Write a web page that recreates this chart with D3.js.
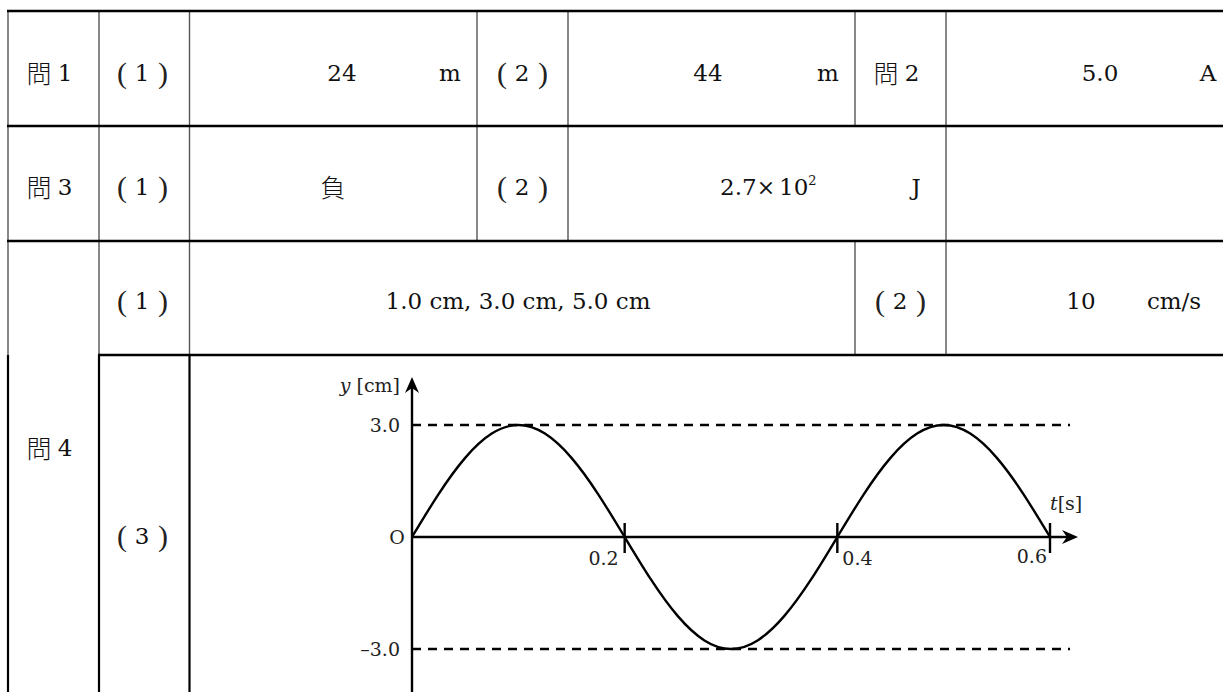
<!DOCTYPE html>
<html><head><meta charset="utf-8">
<script src="https://cdn.jsdelivr.net/npm/d3@7"></script>
<style>
html,body{margin:0;padding:0;background:#fff;}
svg{display:block;}
</style></head>
<body>
<svg id="c" width="1223" height="692"></svg>
<script>
// ---------- data ----------
const questionLabels = [["問", "1"], ["問", "2"], ["問", "3"], ["問", "4"]];
const partLabels = ["1", "2", "3"];
const row1Answers = [["24", "m"], ["44", "m"], ["5.0", "A"]];
const row2Answers = ["負", ["2.7", "×", "10", "2", "J"]];
const row3Answers = ["1.0 cm, 3.0 cm, 5.0 cm", ["10", "cm/s"]];
// graph values
const waveT = [0, 0.025, 0.05, 0.075, 0.1, 0.125, 0.15, 0.175, 0.2, 0.225, 0.25, 0.275, 0.3, 0.325, 0.35, 0.375, 0.4, 0.425, 0.45, 0.475, 0.5, 0.525, 0.55, 0.575, 0.6];
const waveY = [0, 1.15, 2.12, 2.77, 3.0, 2.77, 2.12, 1.15, 0, -1.15, -2.12, -2.77, -3.0, -2.77, -2.12, -1.15, 0, 1.15, 2.12, 2.77, 3.0, 2.77, 2.12, 1.15, 0];
const tTicks = [0.2, 0.4, 0.6];
const tTickLabels = ["0.2", "0.4", "0.6"];
const yTicks = [3.0, -3.0];
const yTickLabels = ["3.0", "–3.0"];
const yAxisTitle = ["y", " [cm]"];
const tAxisTitle = ["t", "[s]"];
const originLabel = "O";

// ---------- layout ----------
const svg = d3.select("#c");
const W = 1223, H = 692;
const serif = "'DejaVu Serif', serif";
const thinSerif = "'Liberation Serif', serif";
const cjk = "'Noto Sans CJK JP', sans-serif";
const rowY = [11, 126, 241, 355];
const colX = [8, 99, 189.5, 477, 568, 855, 946];

const grid = svg.append("g");
function hline(y, x1, x2) {
  grid.append("line").attr("x1", x1).attr("x2", x2).attr("y1", y).attr("y2", y)
    .attr("stroke", "#000").attr("stroke-width", 2.4);
}
function vline(x, y1, y2, dark) {
  grid.append("line").attr("x1", x).attr("x2", x).attr("y1", y1).attr("y2", y2)
    .attr("stroke", dark ? "#000" : "#555").attr("stroke-width", dark ? 2.2 : 1.4);
}
[colX[0], colX[1], colX[2]].forEach(x => { vline(x, rowY[0], rowY[3], false); vline(x, rowY[3], H, true); });
vline(colX[3], rowY[0], rowY[2], false);
vline(colX[4], rowY[0], rowY[2], false);
vline(colX[5], rowY[0], rowY[1], false);
vline(colX[5], rowY[2], rowY[3], false);
vline(colX[6], rowY[0], rowY[3], false);
hline(rowY[0], colX[0] - 1, W);
hline(rowY[1], colX[0] - 1, W);
hline(rowY[2], colX[0] - 1, W);
hline(rowY[3], colX[1] - 1, W);

const txt = svg.append("g").attr("fill", "#111");
const fs = 23;
function put(s, x, y, anchor, fam, size) {
  return txt.append("text").attr("x", x).attr("y", y)
    .attr("text-anchor", anchor || "middle").attr("dominant-baseline", "central")
    .attr("font-family", fam || serif).attr("font-size", size || fs).text(s);
}
const cy = [72, 186, 300, 447, 535];
function question(q, cx, yy) {
  put(q[0], cx - 11, yy, "middle", cjk, 25).attr("font-weight", 300);
  put(q[1], cx + 15, yy + 1, "middle", serif, fs);
}
function part(p, cx, yy) {
  put("(", cx - 20, yy, "middle", thinSerif, 30).attr("fill", "#222");
  put(p, cx, yy + 1, "middle", serif, fs);
  put(")", cx + 21, yy, "middle", thinSerif, 30).attr("fill", "#222");
}
question(questionLabels[0], 50, cy[0]);
question(questionLabels[1], 897, cy[0]);
question(questionLabels[2], 50, cy[1]);
question(questionLabels[3], 50, cy[3]);
part(partLabels[0], 142, cy[0]);
part(partLabels[1], 522, cy[0]);
part(partLabels[0], 142, cy[1]);
part(partLabels[1], 522, cy[1]);
part(partLabels[0], 142, cy[2]);
part(partLabels[1], 900, cy[2]);
part(partLabels[2], 142, cy[4]);

// row 1 answers
const r1pos = [[342, 450], [708, 828], [1100, 1208]];
row1Answers.forEach((a, i) => {
  put(a[0], r1pos[i][0], cy[0] + 1);
  put(a[1], r1pos[i][1], cy[0] + 1);
});
// row 2 answers
put(row2Answers[0], 333, cy[1], "middle", cjk, 25).attr("font-weight", 300);
const sc = row2Answers[1];
put(sc[0], 720, cy[1] + 1, "start");
put(sc[1], 766, cy[1] + 1, "middle", serif, 22).attr("font-weight", 300);
const ten = put(sc[2], 779, cy[1] + 1, "start");
ten.append("tspan").attr("font-size", 13).attr("dy", -7).text(sc[3]);
put(sc[4], 916, cy[1] + 1);
// row 3 answers
put(row3Answers[0], 518, cy[2] + 1, "middle");
put(row3Answers[1][0], 1081, cy[2] + 1);
put(row3Answers[1][1], 1174, cy[2] + 1);

// ---------- graph ----------
const x = d3.scaleLinear().domain([0, 0.6]).range([412, 1050]);
const y = d3.scaleLinear().domain([-3, 3]).range([649, 425]);
const g = svg.append("g");
const lw = 2.4;

yTicks.forEach(v => {
  g.append("line").attr("x1", x(0)).attr("x2", 1070).attr("y1", y(v)).attr("y2", y(v))
    .attr("stroke", "#000").attr("stroke-width", lw).attr("stroke-dasharray", "9,7");
});
g.append("line").attr("x1", x(0)).attr("x2", 1072).attr("y1", y(0)).attr("y2", y(0))
  .attr("stroke", "#000").attr("stroke-width", lw);
g.append("line").attr("x1", x(0)).attr("x2", x(0)).attr("y1", 384).attr("y2", H)
  .attr("stroke", "#000").attr("stroke-width", lw);
const ax = 1078, ay = y(0);
g.append("path").attr("d", `M${ax},${ay} L${ax - 16},${ay - 7} L${ax - 11},${ay} L${ax - 16},${ay + 7} Z`).attr("fill", "#000");
const bx = x(0), by = 377;
g.append("path").attr("d", `M${bx},${by} L${bx - 7},${by + 16} L${bx},${by + 11} L${bx + 7},${by + 16} Z`).attr("fill", "#000");

tTicks.forEach(v => {
  g.append("line").attr("x1", x(v)).attr("x2", x(v)).attr("y1", y(0) - 14).attr("y2", y(0) + 16)
    .attr("stroke", "#000").attr("stroke-width", lw);
});
const pts = waveT.map((t, i) => [t, waveY[i]]);
g.append("path").datum(pts)
  .attr("d", d3.line().x(d => x(d[0])).y(d => y(d[1])).curve(d3.curveNatural))
  .attr("fill", "none").attr("stroke", "#000").attr("stroke-width", lw);

const ls = 19;
const tl = g.append("g").attr("fill", "#222");
function lab(s, xx, yy, anchor) {
  return tl.append("text").attr("x", xx).attr("y", yy).attr("text-anchor", anchor)
    .attr("dominant-baseline", "central").attr("font-family", serif).attr("font-size", ls).text(s);
}
lab(tTickLabels[0], x(tTicks[0]) - 6, y(0) + 21, "end");
lab(tTickLabels[1], x(tTicks[1]) + 5, y(0) + 21, "start");
lab(tTickLabels[2], x(tTicks[2]) - 3, y(0) + 19, "end");
yTicks.forEach((v, i) => lab(yTickLabels[i], x(0) - 12, y(v), "end"));
lab(originLabel, x(0) - 15, y(0), "middle");
const yt = lab("", x(0) - 12, 385, "end");
yt.append("tspan").attr("font-style", "italic").text(yAxisTitle[0]);
yt.append("tspan").text(yAxisTitle[1]);
const tt = lab("", 1050, 503, "start");
tt.append("tspan").attr("font-style", "italic").text(tAxisTitle[0]);
tt.append("tspan").text(tAxisTitle[1]);
</script>
</body></html>
